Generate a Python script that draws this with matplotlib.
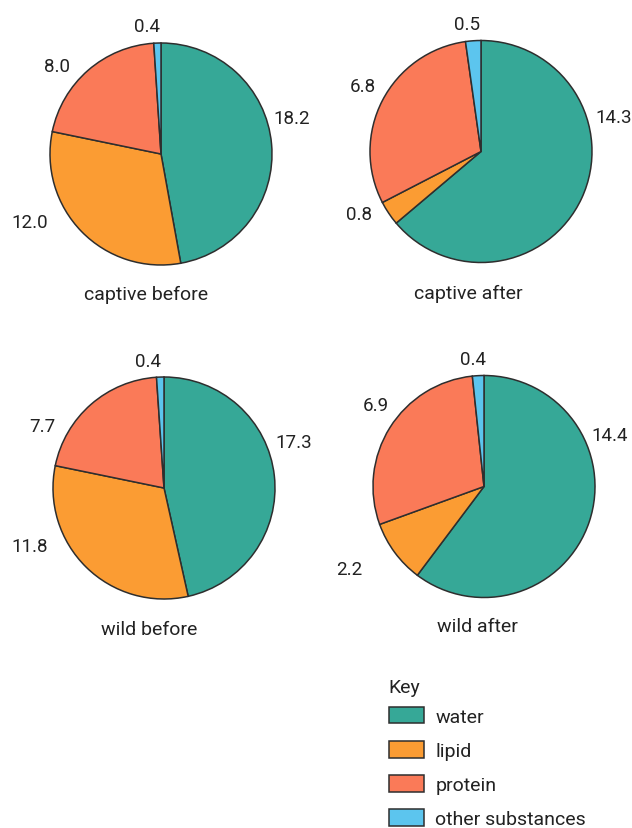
import matplotlib
matplotlib.use("Agg")
import matplotlib.pyplot as plt
from matplotlib.patches import Patch

plt.rcParams['font.family'] = ['Roboto', 'DejaVu Sans']

components = ["water", "lipid", "protein", "other substances"]
titles = ["captive before", "captive after", "wild before", "wild after"]
captive_before = [18.2, 12.0, 8.0, 0.4]
captive_after = [14.3, 0.8, 6.8, 0.5]
wild_before = [17.3, 11.8, 7.7, 0.4]
wild_after = [14.4, 2.2, 6.9, 0.4]
value_labels = [
    ["18.2", "12.0", "8.0", "0.4"],
    ["14.3", "0.8", "6.8", "0.5"],
    ["17.3", "11.8", "7.7", "0.4"],
    ["14.4", "2.2", "6.9", "0.4"],
]
series = [captive_before, captive_after, wild_before, wild_after]

# layout only: label anchor positions (in pie-radius units) per chart
label_layout = [
    [(1.01, 0.32, 'left'), (-1.02, -0.61, 'right'), (-0.82, 0.79, 'right'), (-0.13, 1.15, 'center')],
    [(1.03, 0.31, 'left'), (-0.98, -0.56, 'right'), (-0.95, 0.59, 'right'), (-0.13, 1.15, 'center')],
    [(1.00, 0.41, 'left'), (-1.05, -0.52, 'right'), (-0.98, 0.56, 'right'), (-0.14, 1.14, 'center')],
    [(0.97, 0.46, 'left'), (-1.10, -0.74, 'right'), (-0.86, 0.73, 'right'), (-0.10, 1.15, 'center')],
]
title_layout = [(-0.135, -1.26), (-0.11, -1.27), (-0.13, -1.27), (-0.06, -1.26)]

colors = ["#36a897", "#fb9c33", "#fa7a58", "#5cc5ee"]
edge = "#2e2e2e"
txt = "#222222"

W, H = 632, 829
fig = plt.figure(figsize=(W / 100, H / 100), dpi=100)
centers = [(161, 155), (481, 152.5), (164, 489), (484, 487.5)]
R = 111

for vals, lbls, lay, title, tl, (cx, cy) in zip(series, value_labels, label_layout,
                                               titles, title_layout, centers):
    ax = fig.add_axes([(cx - R) / W, 1 - (cy + R) / H, 2 * R / W, 2 * R / H])
    ax.pie(vals, colors=colors, startangle=90, counterclock=False,
           wedgeprops=dict(edgecolor=edge, linewidth=1.1))
    ax.set_xlim(-1, 1)
    ax.set_ylim(-1, 1)
    ax.set_aspect('equal')
    ax.axis('off')
    for s, (x, y, ha) in zip(lbls, lay):
        ax.text(x, y, s, ha=ha, va='center', fontsize=13.5, color=txt)
    ax.text(tl[0], tl[1], title, ha='center', va='center', fontsize=14,
            color=txt)

handles = [Patch(facecolor=c, edgecolor=edge, linewidth=1.1) for c in colors]
leg = fig.legend(handles, components, title="Key", loc='upper left',
                 bbox_to_anchor=(375 / W, 1 - 665 / H), frameon=False,
                 fontsize=14, title_fontsize=14, handlelength=1.8,
                 handleheight=0.95, labelspacing=0.78, handletextpad=0.6,
                 borderpad=0.2)
leg._legend_box.align = "left"
leg._legend_box.sep = 8
for t in leg.get_texts():
    t.set_color(txt)
leg.get_title().set_color(txt)

fig.savefig("out.png", dpi=100, facecolor="white")
